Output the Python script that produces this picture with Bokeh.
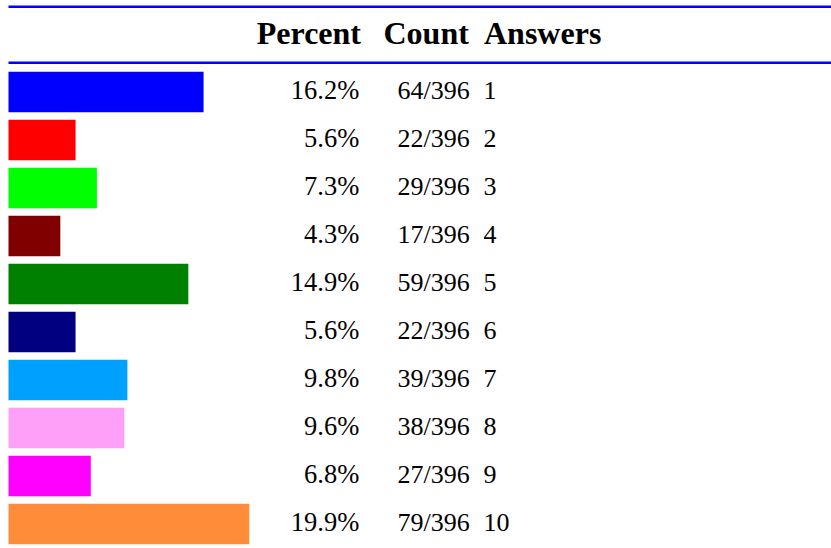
from bokeh.plotting import figure
from bokeh.models import Range1d, ColumnDataSource
from bokeh.core.properties import value
from bokeh.embed import file_html
from bokeh.resources import INLINE

answers = ["1", "2", "3", "4", "5", "6", "7", "8", "9", "10"]
counts = [64, 22, 29, 17, 59, 22, 39, 38, 27, 79]
total = 396
percent_labels = ["16.2%", "5.6%", "7.3%", "4.3%", "14.9%", "5.6%", "9.8%", "9.6%", "6.8%", "19.9%"]
colors = ["#0000FF", "#FF0000", "#00FF00", "#800000", "#008000", "#000080",
          "#00A0FF", "#FFA0F8", "#FF00FF", "#FF8C38"]
headers = ["Percent", "Count", "Answers"]

W, H = 831, 548
LEFT = 8
PX_PER_PCT = 12.07
ROW0, ROWH = 91.5, 48.0

rows = list(range(len(answers)))
pct = [c / total * 100 for c in counts]
count_labels = [f"{c}/{total}" for c in counts]

p = figure(width=W, height=H, output_backend="svg", toolbar_location=None,
           x_range=Range1d(-LEFT / PX_PER_PCT, (W - LEFT) / PX_PER_PCT),
           y_range=Range1d((H - ROW0) / ROWH, -ROW0 / ROWH),
           min_border=0, outline_line_color=None)
p.extra_x_ranges = {"px": Range1d(0, W)}
p.extra_y_ranges = {"py": Range1d(H, 0)}
p.axis.visible = False
p.grid.visible = False
p.background_fill_color = "white"
p.border_fill_color = "white"

src = ColumnDataSource(dict(y=rows, right=pct, color=colors, plab=percent_labels,
                            clab=count_labels, alab=answers))

p.hbar(y="y", left=0, right="right", height=40.5 / ROWH, fill_color="color",
       line_color=None, source=src)

font = value("Liberation Serif")
row_off = -2
p.text(x=358.8, y="y", text="plab", x_range_name="px", source=src, text_font=font,
       text_font_size="26.5px", text_align="right", text_baseline="alphabetic",
       y_offset=row_off, text_color="black")
p.text(x=397, y="y", text="clab", x_range_name="px", source=src, text_font=font,
       text_font_size="26px", text_align="left", text_baseline="alphabetic",
       y_offset=row_off, text_color="black")
p.text(x=483, y="y", text="alab", x_range_name="px", source=src, text_font=font,
       text_font_size="26px", text_align="left", text_baseline="alphabetic",
       y_offset=row_off, text_color="black")

# header
hy = 32.8
p.text(x=[360.5], y=[hy], text=[headers[0]], x_range_name="px", y_range_name="py",
       text_font=font, text_font_size="32px", text_font_style="bold",
       text_align="right", text_baseline="alphabetic", text_color="black")
p.text(x=[383, 483.5], y=[hy, hy], text=headers[1:], x_range_name="px",
       y_range_name="py",
       text_font=font, text_font_size="32px", text_font_style="bold",
       text_align="left", text_baseline="alphabetic", text_color="black")

# rules
p.segment(x0=[LEFT, LEFT], x1=[W, W], y0=[6.2, 62.2], y1=[6.2, 62.2],
          x_range_name="px", y_range_name="py", line_color="#0000FF", line_width=2.5)

open("out.html", "w").write(file_html(p, INLINE))
